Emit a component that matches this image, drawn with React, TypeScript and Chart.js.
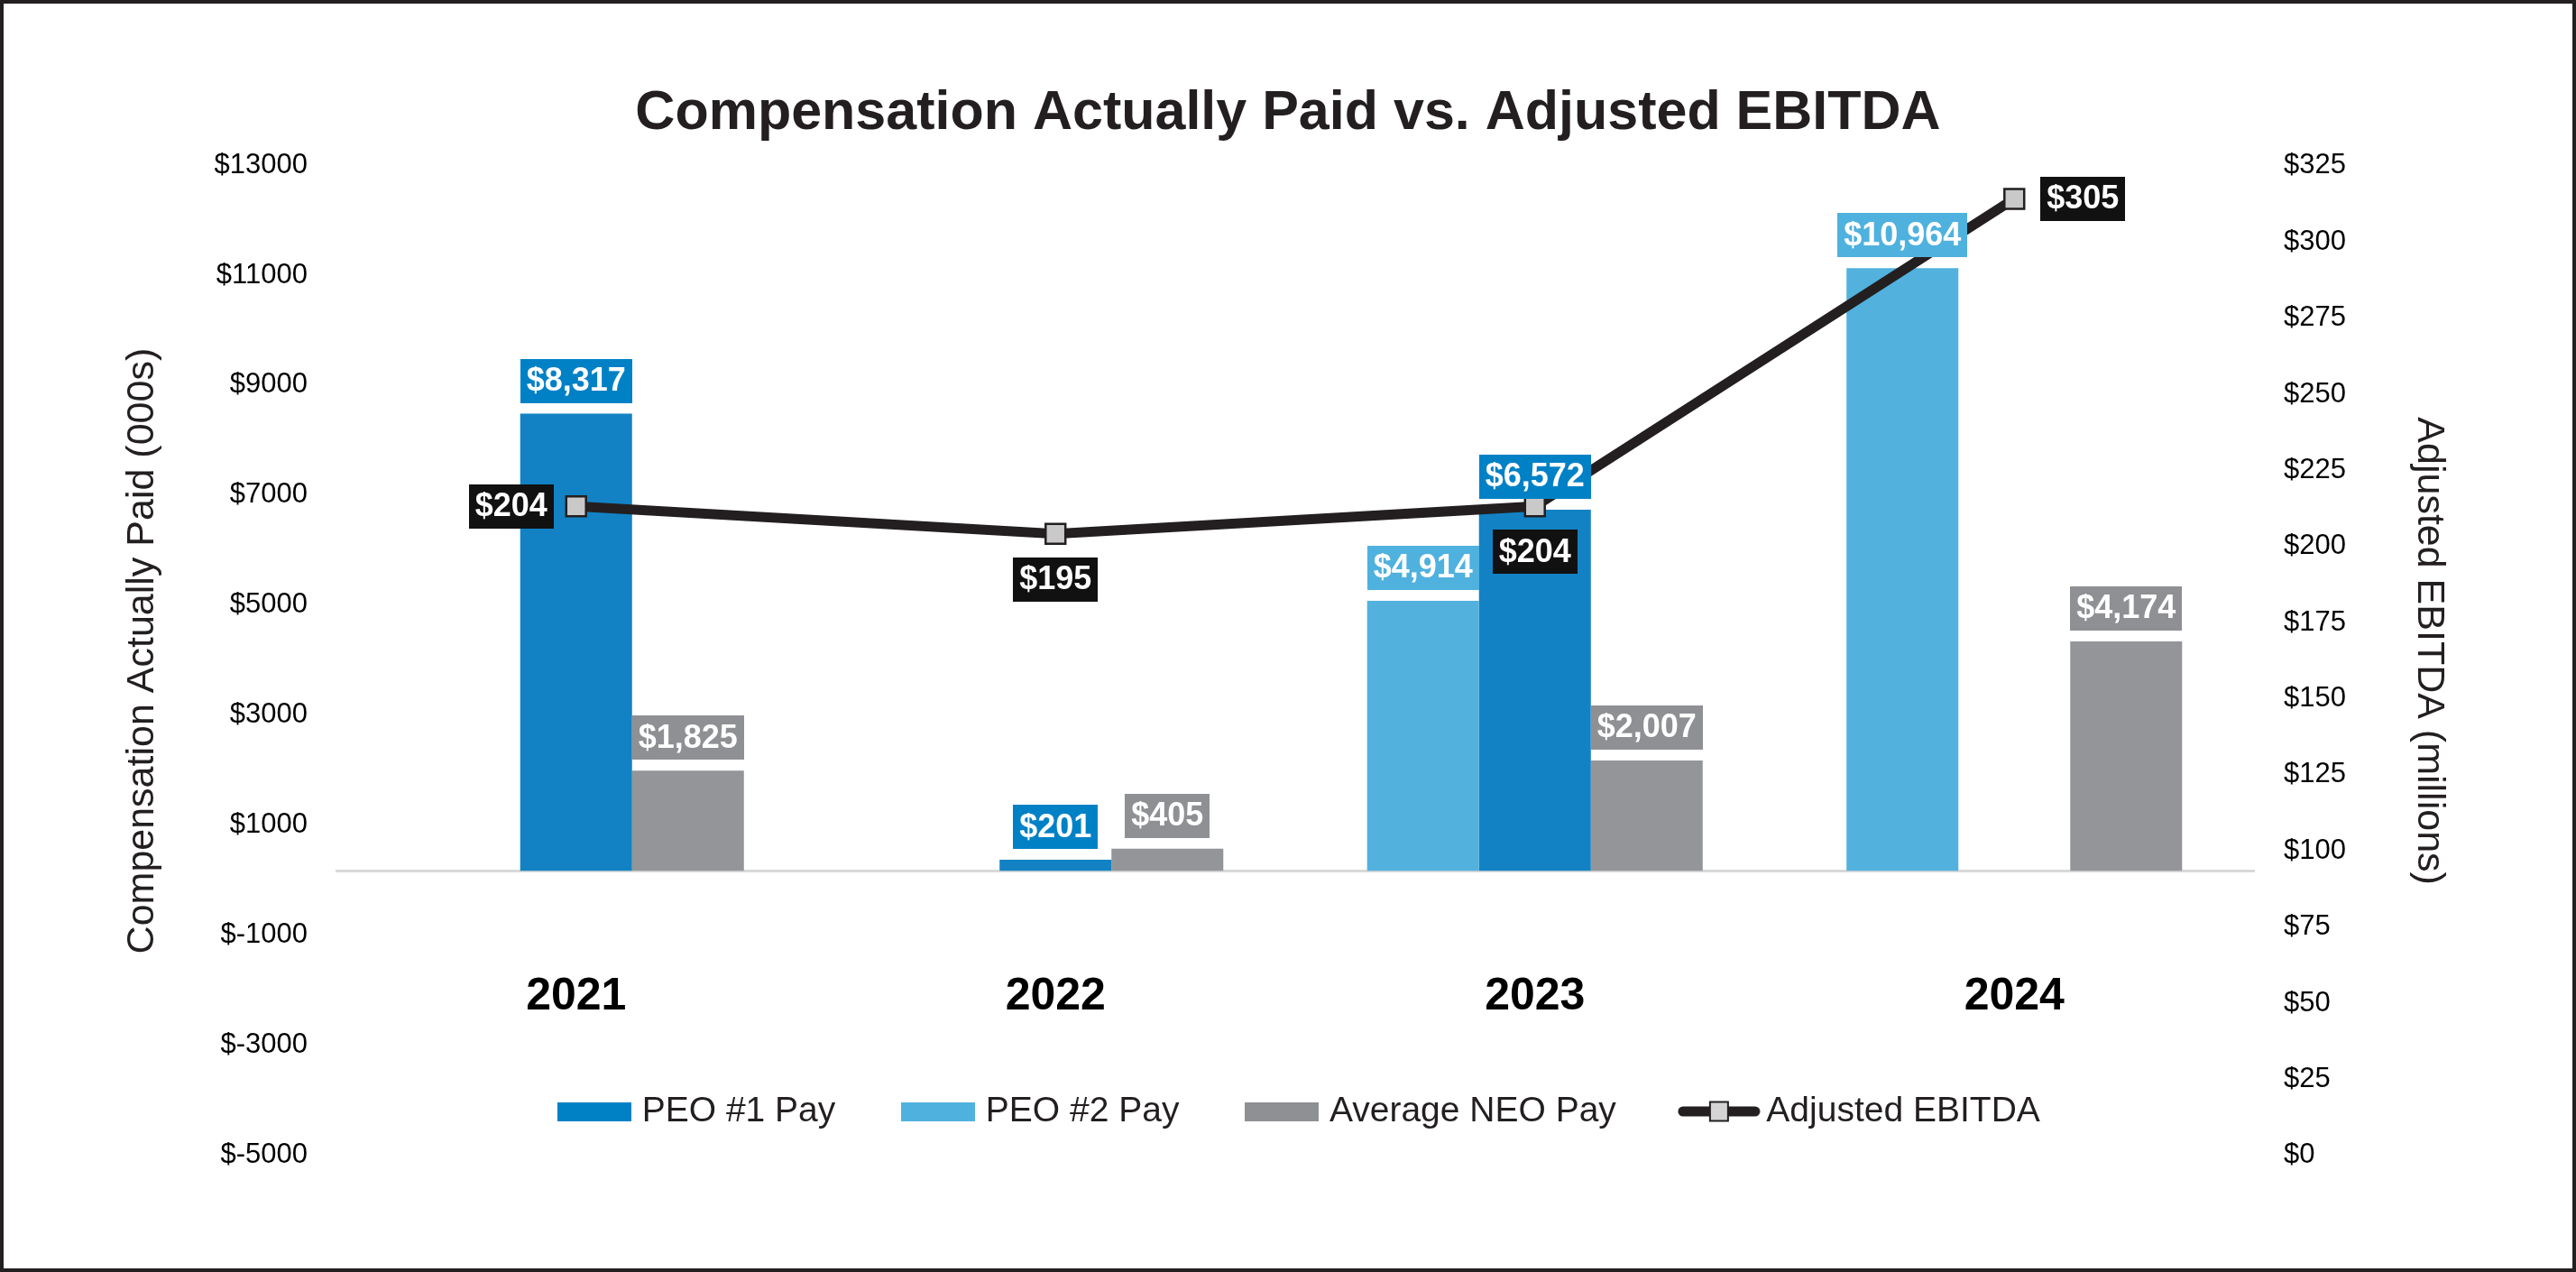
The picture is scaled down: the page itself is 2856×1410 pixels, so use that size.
import React, { useEffect, useRef } from 'react';
import { Chart, registerables } from 'chart.js';

Chart.register(...registerables);

// ---------- data ----------
const YEARS = ['2021', '2022', '2023', '2024'];
const PEO1_PAY: (number | null)[] = [8317, 201, 6572, null];
const PEO2_PAY: (number | null)[] = [null, null, 4914, 10964];
const NEO_PAY: number[] = [1825, 405, 2007, 4174];
const ADJ_EBITDA: number[] = [204, 195, 204, 305];
const COMP_TICKS = [-5000, -3000, -1000, 1000, 3000, 5000, 7000, 9000, 11000, 13000];
const EBITDA_TICKS = [0, 25, 50, 75, 100, 125, 150, 175, 200, 225, 250, 275, 300, 325];
const SERIES_NAMES = ['PEO #1 Pay', 'PEO #2 Pay', 'Average NEO Pay', 'Adjusted EBITDA'];
const EBITDA_LABEL_SIDE = ['left', 'below', 'below', 'right'];

// ---------- style ----------
const FONT = '"Liberation Sans", Arial, Helvetica, sans-serif';
const W = 2848;
const H = 1402;
const LEGEND_FONT = 39;
const LEGEND_PAD = 81;
const LABEL_FONT = 36;

function makeBoxIcon(color: string) {
  const c = document.createElement('canvas');
  c.width = 82;
  c.height = 21;
  const g = c.getContext('2d')!;
  g.fillStyle = color;
  g.fillRect(0, 0, 82, 21);
  return c;
}

function makeLineIcon() {
  const c = document.createElement('canvas');
  c.width = 92;
  c.height = 24;
  const g = c.getContext('2d')!;
  g.strokeStyle = '#231f20';
  g.lineWidth = 11;
  g.lineCap = 'round';
  g.beginPath();
  g.moveTo(6, 12);
  g.lineTo(86, 12);
  g.stroke();
  g.fillStyle = '#d4d4d4';
  g.fillRect(36, 1.5, 20, 21);
  g.lineWidth = 2;
  g.strokeRect(36, 1.5, 20, 21);
  return c;
}

const valueLabels = {
  id: 'valueLabels',
  afterDatasetsDraw(chart: any) {
    const ctx = chart.ctx;
    ctx.save();
    ctx.font = `bold ${LABEL_FONT}px ${FONT}`;
    ctx.textAlign = 'center';
    ctx.textBaseline = 'middle';
    chart.data.datasets.forEach((ds: any, di: number) => {
      const meta = chart.getDatasetMeta(di);
      meta.data.forEach((el: any, i: number) => {
        const v = ds.data[i];
        if (v === null || v === undefined) return;
        const text = '$' + Number(v).toLocaleString('en-US');
        const tw = ctx.measureText(text).width;
        const w = tw + 14;
        const h = 49;
        let cx = el.x;
        let cy = el.y;
        if (meta.type === 'bar') {
          cy = el.y - 12 - h / 2;
        } else {
          const side = EBITDA_LABEL_SIDE[i];
          if (side === 'left') {
            cx = el.x - 25 - w / 2;
          } else if (side === 'right') {
            cx = el.x + 29 + w / 2;
          } else {
            cy = el.y + 26 + h / 2;
          }
        }
        ctx.fillStyle = ds.labelBg;
        ctx.fillRect(Math.round(cx - w / 2), Math.round(cy - h / 2), Math.round(w), h);
        ctx.fillStyle = '#ffffff';
        ctx.fillText(text, cx, cy + 1);
      });
    });
    ctx.restore();
  },
};

const legendInside = {
  id: 'legendInside',
  afterLayout(chart: any) {
    const lg = chart.legend;
    if (!lg) return;
    const ca = chart.chartArea;
    const centerY = ca.bottom - 38;
    const top = centerY - LEGEND_FONT / 2 - LEGEND_PAD;
    lg.top = top;
    lg.height = 220;
    lg.bottom = top + 220;
    lg.left = 16;
    lg.right = chart.width + 16;
    lg.width = chart.width;
  },
};

export default function App() {
  const ref = useRef<HTMLCanvasElement | null>(null);

  useEffect(() => {
    if (!ref.current) return;
    const icons = [
      makeBoxIcon('#0081c6'),
      makeBoxIcon('#4fb1de'),
      makeBoxIcon('#8f9094'),
      makeLineIcon(),
    ];
    const chart = new Chart(ref.current, {
      type: 'bar',
      data: {
        labels: YEARS,
        datasets: [
          {
            type: 'bar',
            label: SERIES_NAMES[0],
            data: PEO1_PAY,
            backgroundColor: '#1282c4',
            labelBg: '#0081c6',
            yAxisID: 'y',
            order: 2,
            categoryPercentage: 0.7,
            barPercentage: 1,
          } as any,
          {
            type: 'bar',
            label: SERIES_NAMES[1],
            data: PEO2_PAY,
            backgroundColor: '#52b1dd',
            labelBg: '#4fb1de',
            yAxisID: 'y',
            order: 1,
            categoryPercentage: 0.7,
            barPercentage: 1,
          } as any,
          {
            type: 'bar',
            label: SERIES_NAMES[2],
            data: NEO_PAY,
            backgroundColor: '#939598',
            labelBg: '#8f9094',
            yAxisID: 'y',
            order: 3,
            categoryPercentage: 0.7,
            barPercentage: 1,
          } as any,
          {
            type: 'line',
            label: SERIES_NAMES[3],
            data: ADJ_EBITDA,
            yAxisID: 'y2',
            borderColor: '#231f20',
            borderWidth: 11,
            tension: 0,
            pointStyle: 'rect',
            pointRadius: 15.5,
            pointBackgroundColor: '#c9c9c9',
            pointBorderColor: '#231f20',
            pointBorderWidth: 2.5,
            labelBg: '#111111',
            order: 0,
          } as any,
        ],
      },
      options: {
        responsive: false,
        animation: false,
        events: [],
        layout: { padding: { left: 0, right: 0, top: 0, bottom: 135 } },
        plugins: {
          title: {
            display: true,
            text: 'Compensation Actually Paid vs. Adjusted EBITDA',
            color: '#231f20',
            font: { family: FONT, size: 61, weight: 'bold', lineHeight: 1.2 },
            padding: { top: 86, bottom: 10 },
          },
          legend: {
            display: true,
            position: 'bottom',
            maxHeight: 1,
            labels: {
              usePointStyle: true,
              pointStyleWidth: 66,
              padding: LEGEND_PAD,
              color: '#231f20',
              font: { family: FONT, size: LEGEND_FONT },
              generateLabels: (c: any) =>
                c.data.datasets.map((ds: any, i: number) => ({
                  text: ds.label,
                  pointStyle: icons[i],
                  datasetIndex: i,
                  hidden: false,
                  fontColor: '#231f20',
                  lineWidth: 0,
                  fillStyle: 'rgba(0,0,0,0)',
                  strokeStyle: 'rgba(0,0,0,0)',
                })),
            },
          },
          tooltip: { enabled: false },
        },
        scales: {
          x: {
            type: 'category',
            position: { y: 0 } as any,
            offset: true,
            grid: { display: false, drawTicks: false },
            border: { display: true, color: '#d9d9d9', width: 3 },
            ticks: {
              color: '#000000',
              font: { family: FONT, size: 50, weight: 'bold' },
              padding: 110,
              autoSkip: false,
              maxRotation: 0,
            },
            afterFit: (s: any) => {
              s.height = 0;
            },
          },
          y: {
            type: 'linear',
            position: 'left',
            min: -5000,
            max: 13000,
            afterBuildTicks: (s: any) => {
              s.ticks = COMP_TICKS.map((v) => ({ value: v }));
            },
            afterFit: (s: any) => {
              s.width = 369;
            },
            grid: { display: false, drawTicks: false },
            border: { display: false },
            ticks: {
              color: '#000000',
              font: { family: FONT, size: 31 },
              padding: 32,
              labelOffset: 10,
              autoSkip: false,
              callback: (v: any) => '$' + v,
            },
            title: {
              display: true,
              text: 'Compensation Actually Paid (000s)',
              color: '#231f20',
              font: { family: FONT, size: 43, lineHeight: 1.2 },
              padding: { top: 128, bottom: 0 },
            },
          },
          y2: {
            type: 'linear',
            position: 'right',
            min: -6,
            max: 319,
            afterBuildTicks: (s: any) => {
              s.ticks = EBITDA_TICKS.map((v) => ({ value: v }));
            },
            afterFit: (s: any) => {
              s.width = 353;
            },
            grid: { display: false, drawTicks: false },
            border: { display: false },
            ticks: {
              color: '#000000',
              font: { family: FONT, size: 31 },
              padding: 33,
              labelOffset: 31,
              autoSkip: false,
              callback: (v: any) => '$' + v,
            },
            title: {
              display: true,
              text: 'Adjusted EBITDA (millions)',
              color: '#231f20',
              font: { family: FONT, size: 43, lineHeight: 1.2 },
              padding: { top: 133, bottom: 0 },
            },
          },
        },
      } as any,
      plugins: [valueLabels, legendInside],
    });
    return () => chart.destroy();
  }, []);

  return (
    <div
      style={{
        position: 'fixed',
        left: 0,
        top: 0,
        width: 2856,
        height: 1410,
        boxSizing: 'border-box',
        border: '4px solid #231f20',
        background: '#ffffff',
        overflow: 'hidden',
      }}
    >
      <canvas ref={ref} width={W} height={H} style={{ display: 'block', width: W, height: H }} />
    </div>
  );
}
